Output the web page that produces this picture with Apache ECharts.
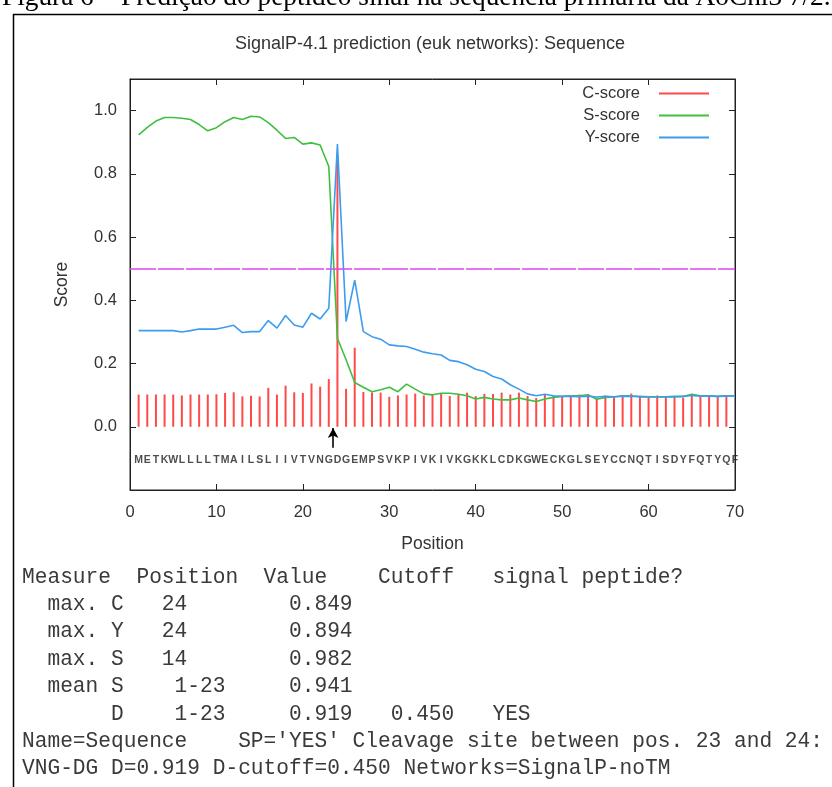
<!DOCTYPE html>
<html>
<head>
<meta charset="utf-8">
<script src="https://cdn.jsdelivr.net/npm/echarts@6/dist/echarts.min.js"></script>
<style>
html,body{margin:0;padding:0;background:#fff;}
#chart{width:832px;height:787px;}
</style>
</head>
<body>
<div id="chart"></div>
<script>
// ---------------- data ----------------
const CAPTION = 'Figura 6 – Predição do peptídeo sinal na sequência primária da AoChi3 7/2.';
const TITLE = 'SignalP-4.1 prediction (euk networks): Sequence';
const X_NAME = 'Position';
const Y_NAME = 'Score';
const legendNames = ['C-score', 'S-score', 'Y-score'];

const sequence = 'METKWLLLLTMAILSLIIVTVNGDGEMPSVKPIVKIVKGKKLCDKGWECKGLSEYCCNQTISDYFQTYQF'.split('');

const cScore = [
  0.102,0.102,0.102,0.102,0.102,0.099,0.102,0.102,0.102,0.103,
  0.107,0.109,0.096,0.098,0.096,0.123,0.102,0.130,0.109,0.107,
  0.137,0.127,0.151,0.849,0.120,0.250,0.110,0.108,0.108,0.095,
  0.099,0.102,0.105,0.099,0.103,0.105,0.097,0.104,0.108,0.097,
  0.104,0.104,0.108,0.102,0.108,0.097,0.091,0.102,0.099,0.097,
  0.097,0.102,0.104,0.092,0.099,0.094,0.099,0.105,0.097,0.097,
  0.099,0.097,0.097,0.092,0.104,0.099,0.099,0.097,0.099
];

const sScore = [
  0.923,0.947,0.967,0.978,0.978,0.976,0.972,0.956,0.936,0.946,
  0.965,0.978,0.972,0.982,0.980,0.962,0.938,0.912,0.915,0.894,
  0.898,0.891,0.823,0.280,0.212,0.140,0.125,0.111,0.117,0.125,
  0.111,0.135,0.119,0.104,0.101,0.106,0.106,0.103,0.098,0.088,
  0.093,0.088,0.085,0.085,0.091,0.085,0.080,0.088,0.093,0.096,
  0.098,0.098,0.101,0.087,0.093,0.094,0.098,0.098,0.094,0.094,
  0.094,0.094,0.094,0.096,0.103,0.098,0.098,0.096,0.098,0.098
];

const yScore = [
  0.304,0.304,0.304,0.304,0.304,0.300,0.304,0.309,0.309,0.309,
  0.315,0.321,0.298,0.301,0.301,0.336,0.312,0.352,0.322,0.315,
  0.359,0.341,0.375,0.894,0.333,0.464,0.301,0.285,0.277,0.259,
  0.256,0.254,0.245,0.236,0.231,0.227,0.210,0.206,0.196,0.182,
  0.175,0.159,0.151,0.133,0.119,0.104,0.098,0.103,0.098,0.096,
  0.096,0.095,0.097,0.094,0.096,0.095,0.097,0.096,0.096,0.095,
  0.095,0.095,0.096,0.096,0.099,0.097,0.097,0.096,0.097,0.098
];

const cutoffLine = 0.5;
const cleavageSite = 23.5;   // between positions 23 and 24

const reportLines = [
  "Measure  Position  Value    Cutoff   signal peptide?",
  "  max. C   24        0.849",
  "  max. Y   24        0.894",
  "  max. S   14        0.982",
  "  mean S    1-23     0.941",
  "       D    1-23     0.919   0.450   YES",
  "Name=Sequence    SP='YES' Cleavage site between pos. 23 and 24:",
  "VNG-DG D=0.919 D-cutoff=0.450 Networks=SignalP-noTM"
];

// ---------------- style constants ----------------
const RED = '#ff4a4a', GREEN = '#3fbf3f', BLUE = '#3d9cf0', MAGENTA = '#e044f0';
const SANS = '"Liberation Sans", Arial, sans-serif';
const SEQ_ROW = -0.107;     // row where residue letters are written
const ARROW_FROM = -0.066, ARROW_TO = -0.004;

const toPts = arr => arr.map((v, i) => [i + 1, v]);

const chart = echarts.init(document.getElementById('chart'), null, {renderer: 'canvas'});

const axisCol = '#222';
const textCol = '#333';

const graphics = [
  {type: 'rect', silent: true, shape: {x: 13.5, y: 14.5, width: 900, height: 900},
   style: {fill: 'none', stroke: '#000', lineWidth: 1.5}},
  {type: 'text', silent: true, x: 2, y: 11,
   style: {text: CAPTION, font: '27.3px "Liberation Serif", "Times New Roman", serif', fill: '#000',
           textVerticalAlign: 'bottom', verticalAlign: 'bottom'}}
];
reportLines.forEach((line, i) => {
  graphics.push({type: 'text', silent: true, x: 22, y: 577 + i * 27.4,
    style: {text: line, font: '21.2px "Liberation Mono", "Courier New", monospace', fill: '#3a3a3a',
            textVerticalAlign: 'middle', verticalAlign: 'middle'}});
});

const option = {
  animation: false,
  backgroundColor: '#fff',
  title: {
    text: TITLE, left: 430, top: 35, textAlign: 'center', padding: 0,
    textStyle: {fontFamily: SANS, fontSize: 18, fontWeight: 'normal', color: textCol}
  },
  legend: {
    data: legendNames, orient: 'vertical', right: 118, top: 80, align: 'right',
    icon: 'rect', itemWidth: 50, itemHeight: 2, itemGap: 5,
    textStyle: {fontFamily: SANS, fontSize: 16.5, color: textCol, padding: [0, 14, 0, 0]}
  },
  grid: {left: 130, top: 79, width: 605, height: 411, show: true, borderColor: axisCol, borderWidth: 1,
         backgroundColor: 'transparent', containLabel: false, outerBoundsMode: 'none'},
  xAxis: [
    {type: 'value', min: 0, max: 70, interval: 10, position: 'bottom',
     axisLine: {show: true, onZero: false, lineStyle: {color: axisCol}},
     axisTick: {show: true, inside: true, length: 6, lineStyle: {color: axisCol}},
     axisLabel: {fontFamily: SANS, fontSize: 16.5, color: textCol, margin: 14},
     splitLine: {show: false},
     name: X_NAME, nameLocation: 'middle', nameGap: 45,
     nameTextStyle: {fontFamily: SANS, fontSize: 17.5, color: textCol}},
    {type: 'value', min: 0, max: 70, interval: 10, position: 'top',
     axisLine: {show: true, onZero: false, lineStyle: {color: axisCol}},
     axisTick: {show: true, inside: true, length: 6, lineStyle: {color: axisCol}},
     axisLabel: {show: false}, splitLine: {show: false}}
  ],
  yAxis: [
    {type: 'value', min: -0.2, max: 1.1, interval: 0.2, position: 'left',
     axisLine: {show: true, onZero: false, lineStyle: {color: axisCol}},
     axisTick: {show: true, inside: true, length: 6, lineStyle: {color: axisCol}},
     axisLabel: {fontFamily: SANS, fontSize: 16.5, color: textCol, margin: 13,
                 formatter: v => (v < -0.01 || v > 1.01) ? '' : v.toFixed(1)},
     splitLine: {show: false},
     name: Y_NAME, nameLocation: 'middle', nameGap: 59, nameRotate: 90,
     nameTextStyle: {fontFamily: SANS, fontSize: 17.5, color: textCol}},
    {type: 'value', min: -0.2, max: 1.1, interval: 0.2, position: 'right',
     axisLine: {show: true, onZero: false, lineStyle: {color: axisCol}},
     axisTick: {show: true, inside: true, length: 6, lineStyle: {color: axisCol}},
     axisLabel: {show: false}, splitLine: {show: false}}
  ],
  series: [
    {name: 'C-score', type: 'bar', xAxisIndex: 0, yAxisIndex: 0, data: toPts(cScore),
     barWidth: 2, itemStyle: {color: RED}, z: 2,
     markLine: {silent: true, symbol: 'none', label: {show: false},
       lineStyle: {color: MAGENTA, width: 1.5, type: [26, 2]},
       data: [{yAxis: cutoffLine}]}},
    {name: 'S-score', type: 'line', data: toPts(sScore), showSymbol: false, symbol: 'none',
     lineStyle: {color: GREEN, width: 1.6}, itemStyle: {color: GREEN}, z: 3},
    {name: 'Y-score', type: 'line', data: toPts(yScore), showSymbol: false, symbol: 'none',
     lineStyle: {color: BLUE, width: 1.6}, itemStyle: {color: BLUE}, z: 4},
    {name: 'sequence', type: 'scatter', symbolSize: 0, silent: true,
     data: sequence.map((aa, i) => [i + 1, SEQ_ROW, aa]),
     label: {show: true, position: 'inside', formatter: p => p.data[2],
             fontFamily: '"Liberation Sans Narrow", "Liberation Sans", Arial, sans-serif',
             fontSize: 10.5, fontWeight: 'bold', color: '#222'},
     markLine: {silent: true, symbol: ['none', 'arrow'], symbolSize: [8, 10], label: {show: false},
       lineStyle: {color: '#000', width: 1.6, type: 'solid'},
       data: [[{coord: [cleavageSite, ARROW_FROM]}, {coord: [cleavageSite, ARROW_TO]}]]}}
  ],
  graphic: graphics
};
chart.setOption(option);
</script>
</body>
</html>
